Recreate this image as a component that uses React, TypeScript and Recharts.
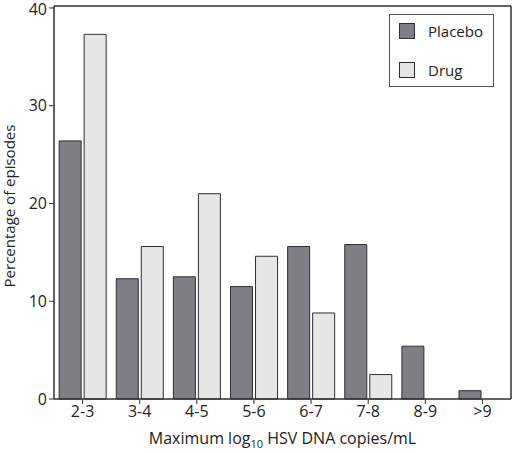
import React from "react";
import { BarChart, Bar, XAxis, YAxis, CartesianGrid } from "recharts";

const categories = ["2-3", "3-4", "4-5", "5-6", "6-7", "7-8", "8-9", ">9"];
const placebo = [26.4, 12.3, 12.5, 11.5, 15.6, 15.8, 5.4, 0.85];
const drug = [37.3, 15.6, 21.0, 14.6, 8.8, 2.5, 0, 0];
const yTicks = [0, 10, 20, 30, 40];

const data = categories.map((c, i) => ({ cat: c, placebo: placebo[i], drug: drug[i] }));

const FONT = "'Open Sans', 'Noto Sans', sans-serif";
const PLACEBO_FILL = "#7e7f84";
const DRUG_FILL = "#e6e6e6";
const STROKE = "#2e2e2e";

const LegendBox = () => (
  <div
    style={{
      position: "absolute",
      left: 389,
      top: 14,
      border: "1px solid #555",
      background: "#fff",
      width: 105,
      height: 73,
      boxSizing: "border-box",
      fontFamily: FONT,
      fontSize: 15,
      color: "#222",
    }}
  >
    {[
      { label: "Placebo", fill: PLACEBO_FILL, top: 8 },
      { label: "Drug", fill: DRUG_FILL, top: 47 },
    ].map((it) => (
      <div key={it.label} style={{ position: "absolute", left: 9, top: it.top, display: "flex", alignItems: "center" }}>
        <div style={{ width: 16, height: 16, background: it.fill, border: `1px solid ${STROKE}`, boxSizing: "border-box" }} />
        <span style={{ marginLeft: 13, lineHeight: "16px" }}>{it.label}</span>
      </div>
    ))}
  </div>
);

const XTitle = (props: any) => {
  const vb = props.viewBox || {};
  const cx = vb.x + vb.width / 2;
  return (
    <text x={cx} y={444} textAnchor="middle" fontFamily={FONT} fontSize={16} fill="#222">
      <tspan>Maximum log</tspan>
      <tspan fontSize={11} dy={4}>10</tspan>
      <tspan dy={-4}> HSV DNA copies/mL</tspan>
    </text>
  );
};

const YTitle = () => (
  <text
    x={15}
    y={206}
    transform="rotate(-90, 15, 206)"
    textAnchor="middle"
    fontFamily={FONT}
    fontSize={15}
    fill="#222"
  >
    Percentage of episodes
  </text>
);

export default function App() {
  return (
    <div style={{ position: "absolute", left: 0, top: 0, width: 513, height: 453, background: "#fff" }}>
      <BarChart
        width={513}
        height={453}
        data={data}
        margin={{ top: 6, right: 2, bottom: 24, left: 0 }}
        barCategoryGap="9%"
        barGap={3}
      >
        <CartesianGrid
          stroke={STROKE}
          strokeWidth={1.5}
          horizontalCoordinatesGenerator={(p: any) => [p.offset.top]}
          verticalCoordinatesGenerator={(p: any) => [p.offset.left + p.offset.width]}
        />
        <XAxis
          dataKey="cat"
          height={30}
          tickLine={{ stroke: STROKE }}
          tickSize={5}
          axisLine={{ stroke: STROKE, strokeWidth: 1.5 }}
          tick={{ fontFamily: FONT, fontSize: 16, fill: "#222" }}
          interval={0}
          label={<XTitle />}
        />
        <YAxis
          width={54}
          domain={[0, 40.2]}
          ticks={yTicks}
          tickLine={{ stroke: STROKE }}
          tickSize={5}
          axisLine={{ stroke: STROKE, strokeWidth: 1.5 }}
          tick={{ fontFamily: FONT, fontSize: 16, fill: "#222" }}
          label={<YTitle />}
        />
        <Bar dataKey="placebo" name="Placebo" fill={PLACEBO_FILL} stroke={STROKE} strokeWidth={1} isAnimationActive={false} />
        <Bar dataKey="drug" name="Drug" fill={DRUG_FILL} stroke={STROKE} strokeWidth={1} isAnimationActive={false} />
      </BarChart>
      <LegendBox />
    </div>
  );
}
